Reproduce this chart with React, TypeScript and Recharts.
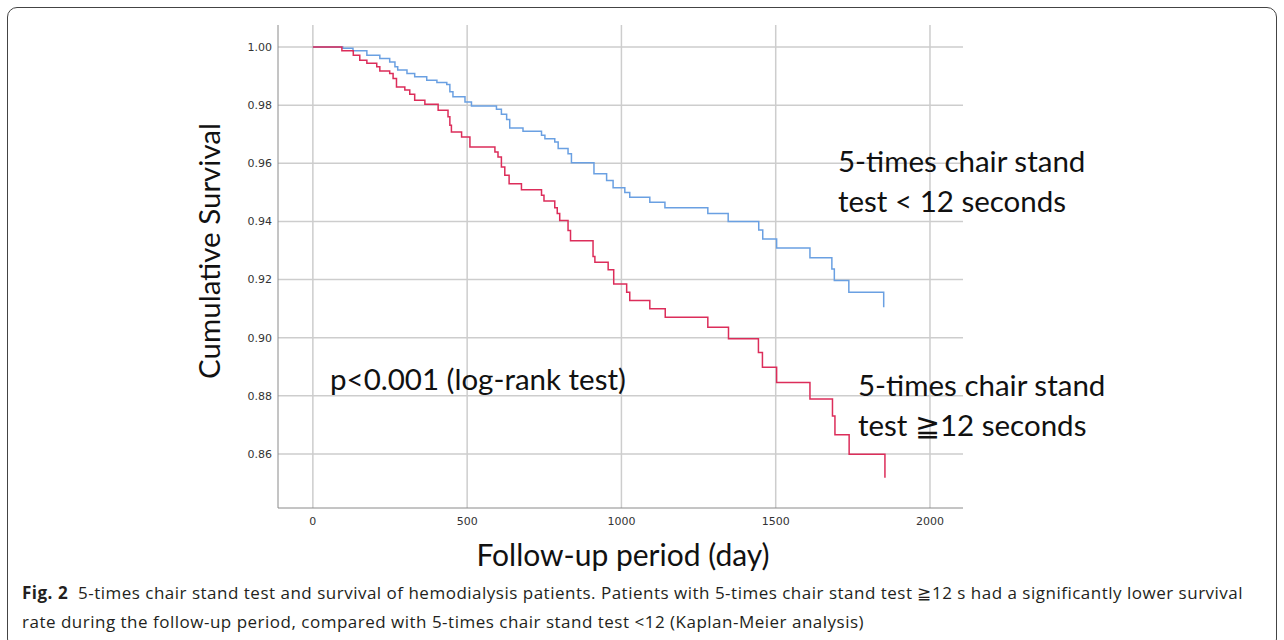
import { LineChart, Line, XAxis, YAxis, CartesianGrid } from 'recharts';

// follow-up days where the step changes, and the survival from that day on
const fastDays = [0, 97, 130, 175, 217, 249, 266, 275, 305, 330, 369, 402, 434, 444, 454, 493, 514, 595, 611, 628, 638, 681, 741, 752, 784, 795, 827, 838, 911, 952, 973, 1011, 1027, 1092, 1141, 1280, 1346, 1445, 1458, 1503, 1611, 1682, 1690, 1737, 1850];
const fastSurv = [1.0, 0.9996, 0.9987, 0.9972, 0.9961, 0.9949, 0.9932, 0.9921, 0.9909, 0.9898, 0.9886, 0.9878, 0.9871, 0.9846, 0.9829, 0.9811, 0.9797, 0.9786, 0.9769, 0.9751, 0.9722, 0.971, 0.9697, 0.9685, 0.9673, 0.9651, 0.9633, 0.9602, 0.9564, 0.9541, 0.9516, 0.95, 0.9483, 0.9466, 0.9447, 0.9427, 0.94, 0.9371, 0.934, 0.9309, 0.9275, 0.9236, 0.9197, 0.9156, 0.9105];

const slowDays = [0, 94, 131, 152, 175, 207, 217, 249, 260, 271, 298, 314, 330, 363, 406, 438, 444, 449, 482, 509, 590, 600, 611, 622, 636, 676, 741, 749, 784, 792, 800, 827, 835, 908, 914, 957, 975, 1017, 1027, 1092, 1142, 1280, 1347, 1444, 1457, 1503, 1611, 1684, 1692, 1738, 1854];
const slowSurv = [1.0, 0.9987, 0.9972, 0.9955, 0.9944, 0.9932, 0.9918, 0.9909, 0.9892, 0.9863, 0.9852, 0.9838, 0.9817, 0.9803, 0.9783, 0.976, 0.9731, 0.9708, 0.9691, 0.9656, 0.9639, 0.9622, 0.9587, 0.9559, 0.953, 0.9509, 0.949, 0.947, 0.9447, 0.9427, 0.9403, 0.9369, 0.9334, 0.9279, 0.926, 0.9234, 0.9185, 0.9156, 0.9128, 0.91, 0.907, 0.9036, 0.8996, 0.8949, 0.8898, 0.8846, 0.8789, 0.8731, 0.8666, 0.8599, 0.8518];

const xTicks = [0, 500, 1000, 1500, 2000];
const yTicks = [0.86, 0.88, 0.9, 0.92, 0.94, 0.96, 0.98, 1.0];

const fastData = fastDays.map((d, i) => ({ day: d, surv: fastSurv[i] }));
const slowData = slowDays.map((d, i) => ({ day: d, surv: slowSurv[i] }));

const labelFont = 'Lato, "Open Sans", sans-serif';
const tickStyle = { fill: '#333', fontSize: 11, fontFamily: '"DejaVu Sans", sans-serif' };

const Note = ({ x, y, children }: { x: number; y: number; children: React.ReactNode }) => (
  <div
    style={{
      position: 'absolute',
      left: x,
      top: y,
      fontFamily: labelFont,
      fontSize: 29.5,
      lineHeight: '40px',
      color: '#111',
      whiteSpace: 'nowrap',
    }}
  >
    {children}
  </div>
);

export default function App() {
  return (
    <div style={{ position: 'absolute', left: 0, top: 0, width: 1284, height: 640, background: '#fff', overflow: 'hidden' }}>
      <div
        style={{
          position: 'absolute',
          left: 7,
          top: 7,
          width: 1268,
          height: 640,
          border: '1px solid #444',
          borderRadius: 10,
        }}
      />
      <div style={{ position: 'absolute', left: 0, top: 0 }}>
        <LineChart width={1284} height={640} margin={{ top: 25, right: 321, bottom: 102, left: 218 }}>
          <CartesianGrid stroke="#cdcdcd" strokeWidth={1.5} horizontalValues={yTicks} verticalValues={xTicks} />
          <XAxis
            type="number"
            dataKey="day"
            domain={[-113, 2107]}
            ticks={xTicks}
            allowDataOverflow
            tick={tickStyle}
            tickLine={false}
            tickSize={0}
            tickMargin={9}
            stroke="#8a8a8a"
            height={30}
          />
          <YAxis
            type="number"
            dataKey="surv"
            domain={[0.8414, 1.0076]}
            ticks={yTicks}
            allowDataOverflow
            tick={tickStyle}
            tickFormatter={(v) => v.toFixed(2)}
            tickLine={false}
            tickSize={0}
            tickMargin={6}
            stroke="#8a8a8a"
            width={60}
          />
          <Line
            data={fastData}
            dataKey="surv"
            type="stepAfter"
            stroke="#6aa0e2"
            strokeWidth={1.5}
            dot={false}
            activeDot={false}
            isAnimationActive={false}
          />
          <Line
            data={slowData}
            dataKey="surv"
            type="stepAfter"
            stroke="#dc2d5a"
            strokeWidth={1.5}
            dot={false}
            activeDot={false}
            isAnimationActive={false}
          />
        </LineChart>
      </div>

      <div
        style={{
          position: 'absolute',
          left: 208,
          top: 251,
          transform: 'translate(-50%, -50%) rotate(-90deg)',
          fontFamily: labelFont,
          fontSize: 29.5,
          color: '#111',
          whiteSpace: 'nowrap',
        }}
      >
        Cumulative Survival
      </div>
      <div
        style={{
          position: 'absolute',
          left: 623,
          top: 536,
          transform: 'translateX(-50%)',
          fontFamily: labelFont,
          fontSize: 30,
          color: '#111',
          whiteSpace: 'nowrap',
        }}
      >
        Follow-up period (day)
      </div>

      <Note x={838} y={141}>
        5-times chair stand
        <br />
        test &lt; 12 seconds
      </Note>
      <Note x={858} y={365}>
        5-times chair stand
        <br />
        test ≧12 seconds
      </Note>
      <Note x={330} y={359}>
        p&lt;0.001 (log-rank test)
      </Note>

      <div
        style={{
          position: 'absolute',
          left: 22,
          top: 578,
          width: 1250,
          fontFamily: '"Open Sans", sans-serif',
          fontSize: 17,
          letterSpacing: 0.5,
          lineHeight: '29px',
          color: '#231f20',
          whiteSpace: 'nowrap',
        }}
      >
        <b>Fig. 2</b>&nbsp; 5-times chair stand test and survival of hemodialysis patients. Patients with 5-times chair stand test ≧12 s had a significantly lower survival
        <br />
        rate during the follow-up period, compared with 5-times chair stand test &lt;12 (Kaplan-Meier analysis)
      </div>
    </div>
  );
}
